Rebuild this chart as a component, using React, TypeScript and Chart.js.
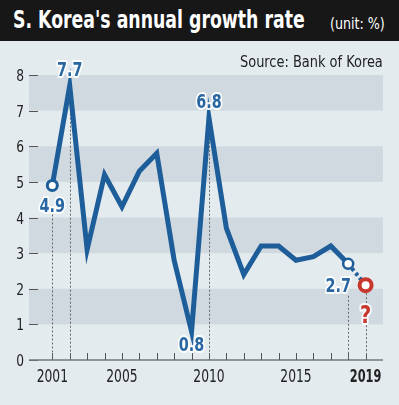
import React, { useEffect, useRef } from "react";
import { Chart, registerables } from "chart.js";

Chart.register(...registerables);

const years = [2001, 2002, 2003, 2004, 2005, 2006, 2007, 2008, 2009, 2010, 2011, 2012, 2013, 2014, 2015, 2016, 2017, 2018];
const growthRate = [4.9, 7.7, 3.1, 5.2, 4.3, 5.3, 5.8, 2.8, 0.8, 6.8, 3.7, 2.4, 3.2, 3.2, 2.8, 2.9, 3.2, 2.7];
const forecastYears = [2018, 2019];
const forecastRate = [2.7, 2.1];
const yTickValues = [0, 1, 2, 3, 4, 5, 6, 7, 8];
const xTickYears = [2001, 2002, 2003, 2004, 2005, 2006, 2007, 2008, 2009, 2010, 2011, 2012, 2013, 2014, 2015, 2016, 2017, 2018, 2019];
const xLabelYears = [2001, 2005, 2010, 2015, 2019];
const labeledYears = [2001, 2002, 2009, 2010, 2018];
const guideYears = [2001, 2002, 2010, 2018, 2019];

const FONT = "'DejaVu Sans Condensed', 'Liberation Sans Narrow', Roboto, sans-serif";
const BLUE = "#1d5d99";
const LABEL_BLUE = "#2a67a2";
const RED = "#c8372d";
const BG = "#e4ebee";
const BAND = "#cfd9df";

function valueOf(year: number): number {
  const i = years.indexOf(year);
  if (i >= 0) return growthRate[i];
  const j = forecastYears.indexOf(year);
  return forecastRate[j];
}

function drawNarrow(ctx: any, text: string, cx: number, cy: number, sx: number, halo?: number) {
  ctx.save();
  ctx.translate(cx, cy);
  ctx.scale(sx, 1);
  if (halo) {
    ctx.strokeStyle = "rgba(255,255,255,0.92)";
    ctx.lineWidth = halo;
    ctx.lineJoin = "round";
    ctx.strokeText(text, 0, 0);
  }
  ctx.fillText(text, 0, 0);
  ctx.restore();
}

const decorPlugin = {
  id: "decor",
  beforeDatasetsDraw(chart: any) {
    const { ctx, chartArea, scales } = chart;
    const x = scales.x;
    const y = scales.y;
    ctx.save();
    ctx.fillStyle = BAND;
    for (let v = 1; v < 8; v += 2) {
      const top = y.getPixelForValue(v + 1);
      const bot = y.getPixelForValue(v);
      ctx.fillRect(chartArea.left, top, chartArea.right - chartArea.left, bot - top);
    }
    ctx.strokeStyle = "#555";
    ctx.lineWidth = 1;
    ctx.fillStyle = "#222";
    ctx.font = `16px ${FONT}`;
    ctx.textAlign = "right";
    ctx.textBaseline = "middle";
    yTickValues.forEach((v) => {
      const py = Math.round(y.getPixelForValue(v)) + 0.5;
      ctx.beginPath();
      ctx.moveTo(chartArea.left, py);
      ctx.lineTo(chartArea.left + 9, py);
      ctx.stroke();
      drawNarrow(ctx, String(v), chartArea.left - 5, py + 1, 0.85);
    });
    const by = y.getPixelForValue(0);
    ctx.strokeStyle = "#777";
    ctx.lineWidth = 1.5;
    ctx.beginPath();
    ctx.moveTo(chartArea.left, by);
    ctx.lineTo(chartArea.right, by);
    ctx.stroke();
    ctx.strokeStyle = "#555";
    ctx.lineWidth = 1;
    xTickYears.forEach((yr) => {
      const px = Math.round(x.getPixelForValue(yr)) + 0.5;
      ctx.beginPath();
      ctx.moveTo(px, by);
      ctx.lineTo(px, by - 7);
      ctx.stroke();
    });
    ctx.fillStyle = "#222";
    ctx.textAlign = "center";
    ctx.textBaseline = "middle";
    xLabelYears.forEach((yr) => {
      ctx.font = `${yr === 2019 ? "bold " : ""}18px ${FONT}`;
      drawNarrow(ctx, String(yr), x.getPixelForValue(yr), by + 17, yr === 2019 ? 0.7 : 0.76);
    });
    ctx.strokeStyle = "#666";
    ctx.lineWidth = 1;
    ctx.setLineDash([2, 2]);
    guideYears.forEach((yr) => {
      const px = Math.round(x.getPixelForValue(yr)) + 0.5;
      const py = y.getPixelForValue(valueOf(yr));
      const start = yr === 2001 ? py + 29 : yr === 2018 ? py + 32 : py;
      ctx.beginPath();
      ctx.moveTo(px, start);
      ctx.lineTo(px, by);
      ctx.stroke();
    });
    ctx.restore();
  },
  afterDatasetsDraw(chart: any) {
    const { ctx, scales } = chart;
    const x = scales.x;
    const y = scales.y;
    ctx.save();
    ctx.textAlign = "center";
    ctx.textBaseline = "middle";
    labeledYears.forEach((yr) => {
      const v = valueOf(yr);
      const px = x.getPixelForValue(yr);
      const py = y.getPixelForValue(v);
      let dx = 0;
      let dy = 0;
      if (yr === 2001) dy = 21;
      else if (yr === 2002) dy = -15;
      else if (yr === 2009) dy = 14;
      else if (yr === 2010) dy = -15;
      else if (yr === 2018) { dx = -10; dy = 23; }
      ctx.font = `bold 20px ${FONT}`;
      ctx.fillStyle = LABEL_BLUE;
      drawNarrow(ctx, v.toFixed(1), px + dx, py + dy, 0.8, 4);
    });
    const fx = x.getPixelForValue(forecastYears[1]);
    const fy = y.getPixelForValue(forecastRate[1]);
    ctx.font = `bold 24px ${FONT}`;
    ctx.fillStyle = RED;
    drawNarrow(ctx, "?", fx, fy + 32, 0.9, 4);
    ctx.restore();
  },
};

export default function App() {
  const canvasRef = useRef<HTMLCanvasElement>(null);

  useEffect(() => {
    document.body.style.margin = "0";
    const canvas = canvasRef.current;
    if (!canvas) return;
    const solidData = years.map((yr, i) => ({ x: yr, y: growthRate[i] }));
    const dashData = forecastYears.map((yr, i) => ({ x: yr, y: forecastRate[i] }));
    const chart = new Chart(canvas, {
      type: "line",
      data: {
        datasets: [
          {
            data: solidData,
            borderColor: BLUE,
            borderWidth: 5,
            borderJoinStyle: "miter",
            pointRadius: years.map((yr) => (yr === 2001 || yr === 2018 ? 5 : 0)),
            pointBorderWidth: years.map((yr) => (yr === 2001 ? 3 : 2.5)),
            pointBackgroundColor: "#ffffff",
            pointBorderColor: BLUE,
            tension: 0,
            order: 1,
          },
          {
            data: dashData,
            borderColor: BLUE,
            borderWidth: 4,
            borderDash: [3, 3],
            pointRadius: [0, 6],
            pointBorderWidth: [0, 4],
            pointBackgroundColor: "#ffffff",
            pointBorderColor: RED,
            tension: 0,
            order: 2,
          },
        ],
      },
      options: {
        responsive: false,
        animation: false,
        clip: false as any,
        layout: { padding: { left: 29, right: 16, top: 34, bottom: 45 } },
        plugins: { legend: { display: false }, tooltip: { enabled: false }, title: { display: false } },
        scales: {
          x: { type: "linear", min: 1999.66, max: 2020, display: false },
          y: { type: "linear", min: 0, max: 8, display: false },
        },
      },
      plugins: [decorPlugin],
    });
    return () => chart.destroy();
  }, []);

  return (
    <div style={{ width: 399, height: 405, background: BG, position: "relative", overflow: "hidden" }}>
      <div style={{ height: 41, background: "#171717", color: "#fff", position: "relative", whiteSpace: "nowrap" }}>
        <span
          style={{
            position: "absolute",
            left: 13,
            top: 5,
            fontFamily: FONT,
            fontWeight: "bold",
            fontSize: 25,
            lineHeight: "30px",
            transform: "scaleX(0.77)",
            transformOrigin: "left center",
          }}
        >
          S. Korea's annual growth rate
        </span>
        <span
          style={{
            position: "absolute",
            left: 330,
            top: 14,
            fontFamily: FONT,
            fontSize: 16,
            lineHeight: "20px",
            transform: "scaleX(0.88)",
            transformOrigin: "left center",
          }}
        >
          (unit: %)
        </span>
      </div>
      <div
        style={{
          position: "absolute",
          left: 240,
          top: 52,
          fontFamily: FONT,
          fontSize: 16,
          lineHeight: "20px",
          color: "#222",
          whiteSpace: "nowrap",
          zIndex: 2,
          transform: "scaleX(0.9)",
          transformOrigin: "left center",
        }}
      >
        Source: Bank of Korea
      </div>
      <canvas ref={canvasRef} width={399} height={364} style={{ position: "absolute", left: 0, top: 41, display: "block" }} />
    </div>
  );
}
